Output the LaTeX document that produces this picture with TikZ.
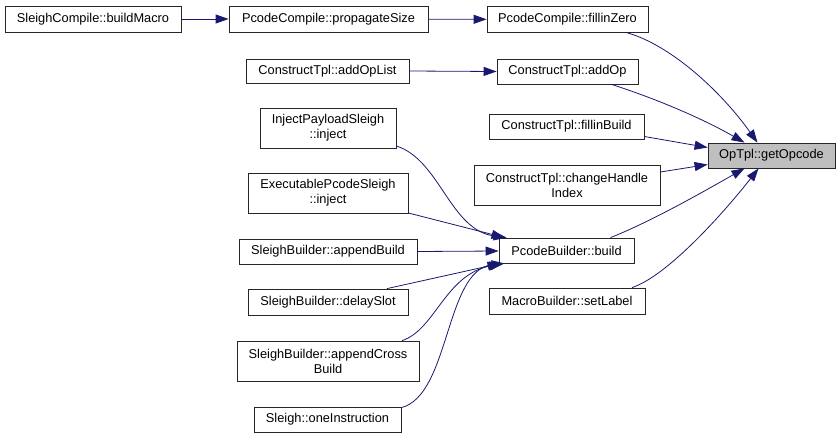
\documentclass[tikz,border=0pt]{standalone}
\usepackage{fontspec}
\setmainfont{Liberation Sans}
\usetikzlibrary{arrows.meta,calc}
\definecolor{edgec}{HTML}{191970}
\definecolor{hlgray}{HTML}{BFBFBF}
\tikzset{
  box/.style={draw=black!85, line width=0.8pt, fill=white, inner sep=0pt, align=center,
    font=\fontsize{12.8}{15}\selectfont},
  hl/.style={box, fill=hlgray},
  edge/.style={draw=edgec, line width=0.8pt, -{Triangle[length=13pt,width=9pt,fill=edgec]}}
}
\begin{document}
\begin{tikzpicture}[x=1pt,y=-1pt]
\useasboundingbox (0,0) rectangle (840,439);
\node[box, minimum width=176pt, minimum height=26pt] (bm) at (93,19) {SleighCompile::buildMacro};
\node[box, minimum width=199pt, minimum height=26pt] (ps) at (328.5,19) {PcodeCompile::propagateSize};
\node[box, minimum width=161pt, minimum height=26pt] (fz) at (567.5,19.5) {PcodeCompile::fillinZero};
\node[box, minimum width=163pt, minimum height=24pt] (aol) at (327.5,71) {ConstructTpl::addOpList};
\node[box, minimum width=141pt, minimum height=25pt] (ao) at (567.5,71.5) {ConstructTpl::addOp};
\node[box, minimum width=136pt, minimum height=40pt] (ips) at (328,128) {InjectPayloadSleigh\\::inject};
\node[box, minimum width=160pt, minimum height=40pt] (eps) at (328,193) {ExecutablePcodeSleigh\\::inject};
\node[box, minimum width=155pt, minimum height=25pt] (fb) at (566.5,126.5) {ConstructTpl::fillinBuild};
\node[hl, minimum width=127pt, minimum height=25pt] (go) at (771.5,155.5) {OpTpl::getOpcode};
\node[box, minimum width=186pt, minimum height=40pt] (chi) at (567,185) {ConstructTpl::changeHandle\\Index};
\node[box, minimum width=135pt, minimum height=25pt] (pb) at (566.5,250.5) {PcodeBuilder::build};
\node[box, minimum width=156pt, minimum height=26pt] (sl) at (567,301) {MacroBuilder::setLabel};
\node[box, minimum width=178pt, minimum height=25pt] (ab) at (328,251.5) {SleighBuilder::appendBuild};
\node[box, minimum width=160pt, minimum height=26pt] (ds) at (328,302) {SleighBuilder::delaySlot};
\node[box, minimum width=182pt, minimum height=40pt] (acb) at (328,361) {SleighBuilder::appendCross\\Build};
\node[box, minimum width=147pt, minimum height=25pt] (oi) at (327.5,419.5) {Sleigh::oneInstruction};

\path[edge] (bm) -- (ps);
\path[edge] (ps) -- (fz);
\path[edge] (aol.east) -- (ao.west);
\path[edge] ($(fz.south)+(60,0)$) .. controls (670,45) and (720,90) .. ($(go.north)+(-14,0)$);
\path[edge] ($(ao.south)+(44,0)$) .. controls (660,100) and (705,120) .. ($(go.north)+(-27,0)$);
\path[edge] ($(fb.east)+(0,10)$) -- ($(go.west)+(0,-8)$);
\path[edge] ($(chi.east)+(0,-13)$) -- ($(go.west)+(0,9)$);
\path[edge] ($(pb.north)+(44,0)$) .. controls (655,220) and (715,185) .. ($(go.south)+(-27,0)$);
\path[edge] ($(sl.north)+(65,0)$) .. controls (670,275) and (730,205) .. ($(go.south)+(-13,0)$);
\path[edge] ($(ips.east)+(0,18)$) .. controls (440,160) and (450,230) .. ($(pb.north west)+(8,0)$);
\path[edge] ($(eps.east)+(0,20)$) -- ($(pb.north west)+(6,0)$);
\path[edge] (ab.east) -- ($(pb.west)+(0,0.5)$);
\path[edge] ($(ds.north)+(59,0)$) -- ($(pb.south west)+(2,0)$);
\path[edge] ($(acb.north)+(74,0)$) .. controls (435,330) and (445,275) .. ($(pb.south west)+(4,0)$);
\path[edge] ($(oi.north east)+(0,1)$) .. controls (450,395) and (445,270) .. ($(pb.south west)+(6,0)$);
\end{tikzpicture}
\end{document}
